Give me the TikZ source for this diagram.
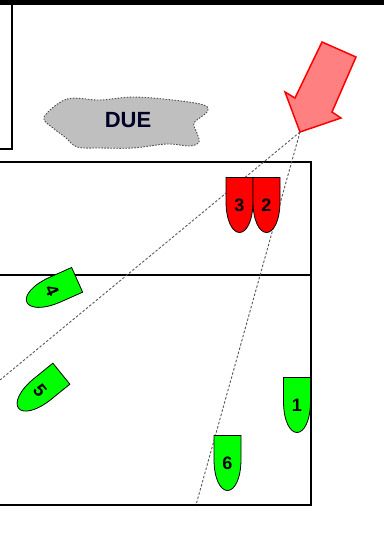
\documentclass[tikz,border=0pt]{standalone}
\usepackage{fontspec}
\setmainfont{Liberation Sans}
\begin{document}
\begin{tikzpicture}[x=1pt,y=1pt,
  frame/.style={draw=black, line width=1.2pt},
  sightline/.style={draw=black!65, line width=0.9pt, dash pattern=on 2.5pt off 1.8pt},
  hull/.style={draw=black, line width=0.8pt},
  boatnum/.style={font=\fontsize{18}{20}\selectfont\bfseries, inner sep=0pt},
  cloudlabel/.style={font=\fontsize{22}{24}\selectfont\bfseries, inner sep=0pt, text=black!85!blue},
  windarrow/.style={draw=red, fill=red!50!white, line width=1.5pt, line join=miter}]
\useasboundingbox (0,0) rectangle (384,-543);

% one boat: name, x, y, angle, fill, number
\newcommand\drawboat[6]{%
  \begin{scope}[shift={(#2,#3)}, rotate=#4]
    \draw[hull, fill=#5] (-13.5,27.5) -- (-13.5,4)
      .. controls (-13.5,-16) and (-7,-27.5) .. (0,-27.5)
      .. controls (7,-27.5) and (13.5,-16) .. (13.5,4)
      -- (13.5,27.5) -- cycle;
    \node[boatnum, rotate=#4] (#1) at (0,0) {#6};
  \end{scope}}

% top border and upper-left panel
\fill[black] (0,0) rectangle (384,-5);
\draw[line width=2pt] (-3,-149) -- (12,-149) -- (12,3);

% racing area
\draw[frame] (-3,-162) rectangle (311,-505);
\draw[frame] (-3,-275) -- (311,-275);

% DUE cloud
\draw[draw=black!70, fill=black!25, line width=0.9pt, dash pattern=on 1.5pt off 1.5pt]
  plot[smooth cycle, tension=0.55] coordinates {
    (44,-117) (67,-99) (100,-100) (133,-97) (173,-100) (204,-105) (207,-112)
    (194,-123) (197,-133) (199,-142) (190,-146) (167,-144) (133,-148) (100,-148)
    (77,-147) (65,-137) (53,-128)};
\node[cloudlabel] (due) at (128,-120) {DUE};

% wind arrow
\coordinate (tip) at (300,-132);
\draw[windarrow] (tip) -- (285,-92) -- (295,-98) -- (322,-42) -- (356,-57)
  -- (332,-112) -- (341,-118) -- cycle;

% sight lines from the arrow tip
\coordinate (endL) at (0,-380);
\coordinate (endB) at (196,-505);
\draw[sightline] (tip) -- (endL);
\draw[sightline] (tip) -- (endB);

% boats
\drawboat{b3}{239.5}{-205}{0}{red}{3}
\drawboat{b2}{266.5}{-205}{0}{red}{2}
\drawboat{b1}{297}{-405}{0}{green}{1}
\drawboat{b6}{227.5}{-463}{0}{green}{6}
\drawboat{b4}{52}{-291}{-66}{green}{4}
\drawboat{b5}{40}{-391}{-51}{green}{5}
\end{tikzpicture}
\end{document}
